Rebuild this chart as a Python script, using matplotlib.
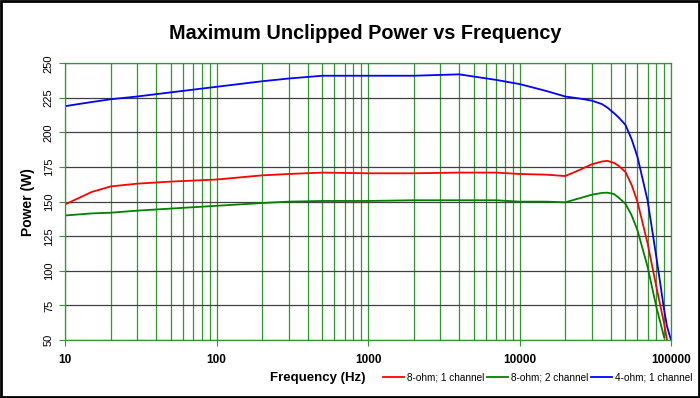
import matplotlib.pyplot as plt
from matplotlib.ticker import FixedLocator, NullFormatter

plt.rcParams['font.family'] = ['Liberation Sans', 'DejaVu Sans']

# Frequency points (Hz)
freq = [10, 15, 20, 30, 50, 100, 200, 300, 500, 1000, 2000, 4000, 7000,
        10000, 15000, 20000, 25000, 30000, 35000, 38000, 42000, 45000, 50000,
        55000, 60000, 70000, 80000, 90000, 94000, 100000]

# 8-ohm; 1 channel
red = [148, 157, 161, 163, 164.5, 166, 169, 170, 171, 170.5, 170.5, 171, 171,
       170, 169.5, 168.5, 173, 177, 179, 179.5, 178, 176, 171.5, 162, 150, 120,
       88.5, 62, 50, None]
# 8-ohm; 2 channel
green = [140, 141.5, 142, 143.5, 145, 147, 149, 150, 150.5, 150.5, 151, 151, 151,
         150, 150, 149.5, 152.5, 155, 156.3, 156.5, 155.5, 153, 148.5, 140, 129.5,
         103, 74, 52, None, None]
# 4-ohm; 1 channel
blue = [219, 222, 224, 226, 229, 233, 237, 239, 241, 241, 241, 242, 238,
        235, 230, 226, 224.5, 223, 220.5, 218, 214, 211, 205.5, 195, 182.5, 151,
        110, 72, 60, 50]

fig = plt.figure(figsize=(7.0, 3.98), dpi=100)
ax = fig.add_axes([0.0929, 0.1457, 0.8657, 0.6953])


def series(xs, ys):
    pts = [(x, y) for x, y in zip(xs, ys) if y is not None]
    return [p[0] for p in pts], [p[1] for p in pts]


fx, fy = series(freq, red)
ax.plot(fx, fy, color='#ff0000', lw=1.3, label='8-ohm; 1 channel')
fx, fy = series(freq, green)
ax.plot(fx, fy, color='#008000', lw=1.3, label='8-ohm; 2 channel')
fx, fy = series(freq, blue)
ax.plot(fx, fy, color='#0000ff', lw=1.3, label='4-ohm; 1 channel')

ax.set_xscale('log')
ax.set_xlim(10, 100000)
ax.set_ylim(50, 250)

# vertical grid at every decade step, horizontal every 25 W
ax.xaxis.set_major_locator(FixedLocator([10, 100, 1000, 10000, 100000]))
minors = [m * 10 ** d for d in range(1, 5) for m in range(2, 10)]
ax.xaxis.set_minor_locator(FixedLocator(minors))
ax.xaxis.set_minor_formatter(NullFormatter())
ax.set_xticklabels(['10', '100', '1000', '10000', '100000'])
ax.set_yticks(range(50, 251, 25))

ax.grid(True, which='both', axis='x', color='#2e9a2e', lw=0.9)
ax.grid(True, which='major', axis='y', color='#404040', lw=0.9)
ax.set_axisbelow(True)

for s in ax.spines.values():
    s.set_color('#2e9a2e')
    s.set_linewidth(0.9)

ax.tick_params(axis='x', which='major', length=4, color='#2e9a2e', labelsize=8.5, pad=6)
ax.tick_params(axis='x', which='minor', length=0)
ax.tick_params(axis='y', length=4, color='#2e9a2e', labelsize=8, pad=4)
for lbl in ax.get_xticklabels():
    lbl.set_fontweight('bold')
for lbl in ax.get_yticklabels():
    lbl.set_rotation(90)
    lbl.set_va('center')

ax.set_xlabel('Frequency (Hz)', fontsize=9.5, fontweight='bold')
ax.xaxis.set_label_coords(0.417, -0.115)
ax.set_ylabel('Power (W)', fontsize=10, fontweight='bold')
ax.yaxis.set_label_coords(-0.05, 0.5)

fig.text(0.522, 0.915, 'Maximum Unclipped Power vs Frequency', ha='center', va='center',
         fontsize=14.3, fontweight='bold')

ax.legend(loc='center right', bbox_to_anchor=(1.035, -0.137), ncol=3, frameon=False,
          fontsize=7.2, handlelength=2.1, handletextpad=0.25, columnspacing=0.3,
          borderaxespad=0, borderpad=0)

# figure border
fig.patches.append(plt.Rectangle((0.002, 0.003), 0.996, 0.994, transform=fig.transFigure,
                                 fill=False, edgecolor='black', lw=2))

fig.savefig('out.png', dpi=100)
